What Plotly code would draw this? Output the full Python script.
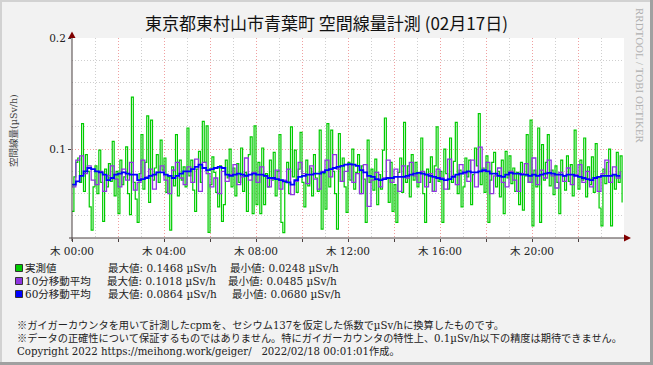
import plotly.graph_objects as go

# ---------------- data ----------------
title_text = "東京都東村山市青葉町 空間線量計測 (02月17日)"
x_tick_minutes = [0, 120, 240, 360, 480, 600, 720, 840, 960, 1080, 1200, 1320]
x_tick_labels = ["木 00:00", "", "木 04:00", "", "木 08:00", "", "木 12:00", "", "木 16:00", "", "木 20:00", ""]
y_tick_values = [0.1, 0.2]
y_tick_labels = ["0.1", "0.2"]

# measured value, one sample every 5 minutes (288 samples)
measured = [
    0.044, 0.075, 0.088, 0.092, 0.070, 0.123, 0.062, 0.095, 0.080, 0.048, 0.027, 0.066,
    0.085, 0.060, 0.099, 0.070, 0.035, 0.082, 0.066, 0.087, 0.071, 0.107, 0.058, 0.080,
    0.042, 0.090, 0.068, 0.075, 0.102, 0.060, 0.041, 0.1468, 0.070, 0.055, 0.034, 0.078,
    0.113, 0.064, 0.088, 0.130, 0.052, 0.126, 0.072, 0.083, 0.095, 0.070, 0.108, 0.081,
    0.092, 0.061, 0.075, 0.027, 0.084, 0.067, 0.113, 0.058, 0.090, 0.072, 0.084, 0.066,
    0.119, 0.076, 0.090, 0.063, 0.044, 0.082, 0.098, 0.070, 0.125, 0.088, 0.121, 0.025,
    0.068, 0.093, 0.079, 0.061, 0.048, 0.085, 0.035, 0.050, 0.090, 0.074, 0.100, 0.066,
    0.083, 0.058, 0.087, 0.070, 0.101, 0.062, 0.079, 0.044, 0.095, 0.111, 0.042, 0.121,
    0.050, 0.088, 0.042, 0.101, 0.050, 0.078, 0.066, 0.090, 0.072, 0.097, 0.058, 0.080,
    0.113, 0.034, 0.0248, 0.070, 0.088, 0.060, 0.120, 0.075, 0.099, 0.061, 0.082, 0.115,
    0.070, 0.048, 0.090, 0.067, 0.083, 0.058, 0.095, 0.074, 0.062, 0.117, 0.028, 0.078,
    0.046, 0.123, 0.066, 0.117, 0.080, 0.060, 0.028, 0.114, 0.071, 0.092, 0.066, 0.043,
    0.088, 0.072, 0.100, 0.064, 0.079, 0.095, 0.060, 0.085, 0.073, 0.034, 0.108, 0.070,
    0.082, 0.063, 0.091, 0.050, 0.077, 0.064, 0.099, 0.128, 0.074, 0.052, 0.088, 0.044,
    0.068, 0.034, 0.079, 0.092, 0.061, 0.124, 0.070, 0.085, 0.057, 0.095, 0.072, 0.088,
    0.066, 0.079, 0.110, 0.060, 0.034, 0.082, 0.070, 0.093, 0.062, 0.085, 0.120, 0.071,
    0.080, 0.034, 0.100, 0.078, 0.064, 0.110, 0.070, 0.089, 0.124, 0.060, 0.081, 0.048,
    0.066, 0.092, 0.075, 0.090, 0.050, 0.077, 0.101, 0.085, 0.132, 0.068, 0.083, 0.061,
    0.094, 0.034, 0.072, 0.088, 0.097, 0.066, 0.080, 0.057, 0.090, 0.042, 0.098, 0.074,
    0.094, 0.069, 0.083, 0.062, 0.079, 0.050, 0.088, 0.045, 0.076, 0.113, 0.070, 0.126,
    0.031, 0.081, 0.066, 0.119, 0.034, 0.104, 0.072, 0.088, 0.113, 0.067, 0.081, 0.059,
    0.085, 0.070, 0.042, 0.090, 0.076, 0.063, 0.094, 0.071, 0.086, 0.058, 0.117, 0.077,
    0.064, 0.090, 0.072, 0.110, 0.057, 0.084, 0.068, 0.093, 0.061, 0.105, 0.075, 0.047,
    0.031, 0.082, 0.069, 0.088, 0.100, 0.031, 0.077, 0.064, 0.097, 0.070, 0.094, 0.052,
]

# 10-minute moving average, one value every 10 minutes (144 values)
avg10 = [
    0.066, 0.090, 0.094, 0.078, 0.085, 0.072,
    0.068, 0.080, 0.062, 0.076, 0.085, 0.073,
    0.066, 0.082, 0.072, 0.088, 0.063, 0.070,
    0.090, 0.075, 0.082, 0.064, 0.079, 0.085,
    0.072, 0.060, 0.081, 0.088, 0.074, 0.068,
    0.084, 0.070, 0.091, 0.062, 0.088, 0.078,
    0.066, 0.074, 0.060, 0.080, 0.071, 0.077,
    0.086, 0.068, 0.075, 0.092, 0.072, 0.079,
    0.070, 0.084, 0.076, 0.066, 0.073, 0.081,
    0.064, 0.072, 0.082, 0.059, 0.071, 0.088,
    0.078, 0.069, 0.085, 0.073, 0.064, 0.080,
    0.090, 0.075, 0.095, 0.082, 0.071, 0.080,
    0.086, 0.070, 0.078, 0.060, 0.086, 0.0485,
    0.072, 0.079, 0.066, 0.074, 0.090, 0.070,
    0.082, 0.062, 0.085, 0.074, 0.088, 0.076,
    0.070, 0.080, 0.066, 0.078, 0.062, 0.082,
    0.074, 0.064, 0.091, 0.076, 0.068, 0.086,
    0.078, 0.071, 0.090, 0.066, 0.1018, 0.080,
    0.088, 0.060, 0.076, 0.083, 0.070, 0.066,
    0.080, 0.072, 0.062, 0.078, 0.087, 0.070,
    0.092, 0.068, 0.081, 0.074, 0.090, 0.076,
    0.065, 0.079, 0.071, 0.083, 0.068, 0.077,
    0.086, 0.070, 0.080, 0.066, 0.074, 0.062,
    0.078, 0.090, 0.070, 0.084, 0.074, 0.080,
]

# 60-minute moving average, one value every 10 minutes (144 values)
avg60 = [
    0.068, 0.071, 0.076, 0.080, 0.083, 0.082,
    0.080, 0.079, 0.077, 0.072, 0.074, 0.077,
    0.078, 0.079, 0.078, 0.077, 0.077, 0.072,
    0.073, 0.074, 0.076, 0.077, 0.079, 0.079,
    0.077, 0.076, 0.074, 0.076, 0.078, 0.080,
    0.080, 0.082, 0.084, 0.086, 0.083, 0.081,
    0.082, 0.083, 0.084, 0.083, 0.077, 0.076,
    0.077, 0.078, 0.077, 0.076, 0.077, 0.078,
    0.077, 0.077, 0.076, 0.074, 0.074, 0.073,
    0.072, 0.071, 0.070, 0.068, 0.072, 0.075,
    0.076, 0.077, 0.077, 0.078, 0.078, 0.079,
    0.081, 0.082, 0.083, 0.084, 0.085, 0.086,
    0.0864, 0.086, 0.085, 0.081, 0.079, 0.076,
    0.075, 0.073, 0.072, 0.073, 0.074, 0.074,
    0.075, 0.075, 0.075, 0.076, 0.077, 0.078,
    0.0786, 0.078, 0.077, 0.076, 0.075, 0.074,
    0.073, 0.072, 0.073, 0.075, 0.077, 0.078,
    0.079, 0.080, 0.079, 0.079, 0.080, 0.081,
    0.080, 0.078, 0.078, 0.076, 0.075, 0.077,
    0.0786, 0.078, 0.078, 0.077, 0.077, 0.076,
    0.077, 0.076, 0.077, 0.078, 0.0786, 0.078,
    0.077, 0.077, 0.076, 0.077, 0.077, 0.076,
    0.075, 0.074, 0.073, 0.072, 0.074, 0.075,
    0.076, 0.076, 0.076, 0.077, 0.076, 0.076,
]

legend_names = ["実測値", "10分移動平均", "60分移動平均"]
legend_max = ["最大値: 0.1468 µSv/h", "最大値: 0.1018 µSv/h", "最大値: 0.0864 µSv/h"]
legend_min = ["最小値: 0.0248 µSv/h", "最小値: 0.0485 µSv/h", "最小値: 0.0680 µSv/h"]
notes = [
    "※ガイガーカウンタを用いて計測したcpmを、セシウム137を仮定した係数でµSv/hに換算したものです。",
    "※データの正確性について保証するものではありません。特にガイガーカウンタの特性上、0.1µSv/h以下の精度は期待できません。",
    "Copyright 2022 https://meihong.work/geiger/&nbsp;&nbsp;&nbsp;2022/02/18 00:01:01作成。",
]

# ---------------- styling ----------------
W, H = 653, 365
L, R, T, B = 72, 29, 38, 127
PW, PH = W - L - R, H - T - B
GREEN, PURPLE, BLUE = "#00CC00", "#8E35E0", "#0000FF"
BG = "#F2F2F2"
FONT = "DejaVu Serif, Noto Sans CJK JP, serif"
FS = 10.5
FS_NOTE = 10.2
TXT = "#222222"


def px(x):
    return (x - L) / PW


def py(y):
    return (H - B - y) / PH


t5 = [i * 5 for i in range(len(measured))]
t10 = [i * 10 for i in range(len(avg10))]

fig = go.Figure()
fig.add_trace(go.Scatter(x=t5, y=measured, mode="lines", line=dict(color=GREEN, width=1.2, shape="hv"),
                         showlegend=False, hoverinfo="skip"))
fig.add_trace(go.Scatter(x=t10, y=avg10, mode="lines", line=dict(color=PURPLE, width=1.3, shape="hv"),
                         showlegend=False, hoverinfo="skip"))
fig.add_trace(go.Scatter(x=t10, y=avg60, mode="lines", line=dict(color=BLUE, width=1.8, shape="hv"),
                         showlegend=False, hoverinfo="skip"))

shapes = []
AX = "#4a4040"
ARROW = "#800000"
shapes.append(dict(type="line", xref="paper", yref="paper", x0=px(69), x1=px(626), y0=0, y1=0,
                   line=dict(color=AX, width=1)))
shapes.append(dict(type="line", xref="paper", yref="paper", x0=0, x1=0, y0=py(241), y1=py(36),
                   line=dict(color=AX, width=1)))
shapes.append(dict(type="path", xref="paper", yref="paper",
                   path=f"M {px(631)} {py(238)} L {px(624)} {py(234.5)} L {px(624)} {py(241.5)} Z",
                   fillcolor=ARROW, line=dict(color=ARROW, width=0)))
shapes.append(dict(type="path", xref="paper", yref="paper",
                   path=f"M {px(72)} {py(31.5)} L {px(68.5)} {py(38)} L {px(75.5)} {py(38)} Z",
                   fillcolor=ARROW, line=dict(color=ARROW, width=0)))
# 3D frame
shapes.append(dict(type="rect", xref="paper", yref="paper", x0=px(0), x1=px(2), y0=py(365), y1=py(0),
                   fillcolor="#D2D2D2", line=dict(width=0)))
shapes.append(dict(type="rect", xref="paper", yref="paper", x0=px(0), x1=px(653), y0=py(2), y1=py(0),
                   fillcolor="#D2D2D2", line=dict(width=0)))
shapes.append(dict(type="rect", xref="paper", yref="paper", x0=px(650), x1=px(653), y0=py(365), y1=py(0),
                   fillcolor="#A0A0A0", line=dict(width=0)))
shapes.append(dict(type="rect", xref="paper", yref="paper", x0=px(0), x1=px(653), y0=py(365), y1=py(362),
                   fillcolor="#A0A0A0", line=dict(width=0)))

annotations = []
row_y = [268, 281, 294]
for col, name, mx, mn, yy, xmx, xmn in zip([GREEN, PURPLE, BLUE], legend_names, legend_max, legend_min,
                                           row_y, [106, 105, 106], [228, 226, 230]):
    shapes.append(dict(type="rect", xref="paper", yref="paper", x0=px(15.5), x1=px(22.5),
                       y0=py(yy + 3.5), y1=py(yy - 3.5), fillcolor=col, line=dict(color="#333333", width=1)))
    for txt, xx in [(name, 23), (mx, xmx), (mn, xmn)]:
        annotations.append(dict(text=txt, xref="paper", yref="paper", x=px(xx), y=py(yy), xanchor="left",
                                yanchor="middle", showarrow=False, font=dict(family=FONT, size=FS, color=TXT)))
for txt, yy in zip(notes, [325, 338, 351]):
    annotations.append(dict(text=txt, xref="paper", yref="paper", x=px(15), y=py(yy), xanchor="left",
                            yanchor="middle", showarrow=False, font=dict(family=FONT, size=FS_NOTE, color=TXT)))
annotations.append(dict(text="空間線量(µSv/h)", xref="paper", yref="paper", x=px(13), y=py(131),
                        xanchor="center", yanchor="middle", textangle=-90, showarrow=False,
                        font=dict(family=FONT, size=9.5, color="#444444")))
annotations.append(dict(text="RRDTOOL / TOBI OETIKER", xref="paper", yref="paper", x=px(640), y=py(76),
                        xanchor="center", yanchor="middle", textangle=90, showarrow=False,
                        font=dict(family="Liberation Serif, serif", size=11, color="#B0B0B0")))

fig.update_layout(
    width=W, height=H,
    margin=dict(l=L, r=R, t=T, b=B, pad=0),
    paper_bgcolor=BG, plot_bgcolor="#FFFFFF",
    title=dict(text=title_text, x=0.5, xref="container", xanchor="center", y=1 - 24 / H, yref="container",
               yanchor="middle", font=dict(family="Noto Sans CJK JP", size=17, color="#111111")),
    shapes=shapes, annotations=annotations,
    xaxis=dict(range=[0, 1440], tickmode="array", tickvals=x_tick_minutes, ticktext=x_tick_labels,
               showgrid=True, gridcolor="#F0A0A0", griddash="1px,2px", gridwidth=1,
               minor=dict(dtick=60, tick0=0, showgrid=True, gridcolor="#CFCFCF", griddash="1px,2px"),
               ticks="outside", ticklen=3, tickcolor=AX, showline=False, zeroline=False,
               tickfont=dict(family=FONT, size=FS, color=TXT), fixedrange=True),
    yaxis=dict(range=[0.02, 0.2], tickmode="array", tickvals=y_tick_values, ticktext=y_tick_labels,
               showgrid=True, gridcolor="#F0A0A0", griddash="1px,2px", gridwidth=1,
               minor=dict(dtick=0.02, tick0=0, showgrid=True, gridcolor="#CFCFCF", griddash="1px,2px"),
               ticks="outside", ticklen=3, tickcolor=AX, showline=False, zeroline=False,
               tickfont=dict(family=FONT, size=FS, color=TXT), fixedrange=True),
)

fig.write_html("out.html", config={"displayModeBar": False, "staticPlot": True},
               post_script="document.body.style.margin='0px';document.body.style.padding='0px';")
